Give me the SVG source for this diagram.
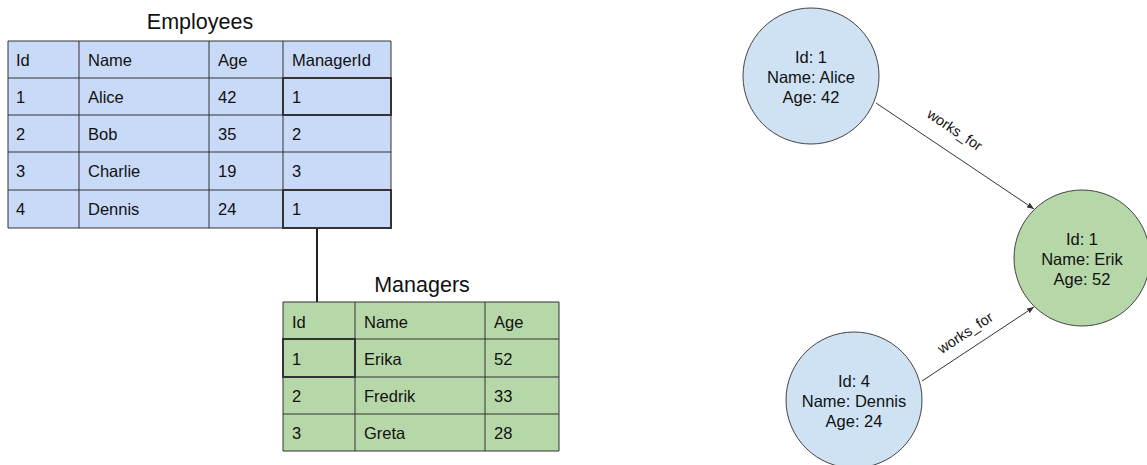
<svg xmlns="http://www.w3.org/2000/svg" width="1147" height="465" viewBox="0 0 1147 465">
<defs>
<marker id="arr" viewBox="0 0 10 10" refX="10" refY="5" markerWidth="7" markerHeight="7" markerUnits="userSpaceOnUse" orient="auto">
<path d="M0,1 L10,5 L0,9 z" fill="#333"/>
</marker>
</defs>
<style>
text{font-family:"Liberation Sans",Arial,sans-serif;fill:#111}
.cell{font-size:16.5px}
.title{font-size:21.5px;text-anchor:middle}
.emp{fill:#c9daf8}
.mgr{fill:#b6d7a8}
.grid{stroke:#333;stroke-width:1;fill:none}
.hl{stroke:#333;stroke-width:2;fill:none}
.node{stroke:#444;stroke-width:1}
.blue{fill:#cfe2f3}
.green{fill:#b6d7a8}
.nt{font-size:16.5px;text-anchor:middle}
.el{font-size:14.5px;text-anchor:middle}
.edge{stroke:#333;stroke-width:1;fill:none}
</style>
<rect width="1147" height="465" fill="#fff"/>

<g id="employees">
<text class="title" x="200" y="29">Employees</text>
<rect class="emp" x="8" y="41" width="383" height="187"/>
<path class="grid" d="M8,41H391V228H8Z M79,41V228 M209,41V228 M283,41V228 M8,78H391 M8,115H391 M8,152H391 M8,190H391"/>
<rect class="hl" x="283" y="78" width="108" height="37"/>
<rect class="hl" x="283" y="190" width="108" height="38"/>
<g class="cell">
<text x="16" y="66">Id</text><text x="88" y="66">Name</text><text x="218" y="66">Age</text><text x="292" y="66">ManagerId</text>
<text x="16" y="103">1</text><text x="88" y="103">Alice</text><text x="218" y="103">42</text><text x="292" y="103">1</text>
<text x="16" y="140">2</text><text x="88" y="140">Bob</text><text x="218" y="140">35</text><text x="292" y="140">2</text>
<text x="16" y="177">3</text><text x="88" y="177">Charlie</text><text x="218" y="177">19</text><text x="292" y="177">3</text>
<text x="16" y="215">4</text><text x="88" y="215">Dennis</text><text x="218" y="215">24</text><text x="292" y="215">1</text>
</g>
</g>

<g id="managers">
<text class="title" x="422" y="292">Managers</text>
<rect class="mgr" x="283" y="302" width="276" height="149"/>
<path class="grid" d="M283,302H559V451H283Z M355,302V451 M485,302V451 M283,339H559 M283,377H559 M283,414H559"/>
<rect class="hl" x="283" y="339" width="72" height="38"/>
<g class="cell">
<text x="292" y="328">Id</text><text x="364" y="328">Name</text><text x="494" y="328">Age</text>
<text x="292" y="365">1</text><text x="364" y="365">Erika</text><text x="494" y="365">52</text>
<text x="292" y="402">2</text><text x="364" y="402">Fredrik</text><text x="494" y="402">33</text>
<text x="292" y="439">3</text><text x="364" y="439">Greta</text><text x="494" y="439">28</text>
</g>
</g>

<g id="connectors">
<line x1="317" y1="229" x2="317" y2="302" stroke="#222" stroke-width="2"/>
<line class="edge" x1="876" y1="103" x2="1034" y2="209" marker-end="url(#arr)"/>
<line class="edge" x1="922" y1="381" x2="1034" y2="307" marker-end="url(#arr)"/>
<text class="el" transform="translate(952,134) rotate(33.9)">works_for</text>
<text class="el" transform="translate(968,337) rotate(-33.5)">works_for</text>
</g>

<g id="alice">
<circle class="node blue" cx="811" cy="76" r="68"/>
<text class="nt" x="811" y="63">Id: 1</text>
<text class="nt" x="811" y="83">Name: Alice</text>
<text class="nt" x="811" y="103">Age: 42</text>
</g>
<g id="erik">
<circle class="node green" cx="1082" cy="258" r="68"/>
<text class="nt" x="1082" y="245">Id: 1</text>
<text class="nt" x="1082" y="265">Name: Erik</text>
<text class="nt" x="1082" y="285">Age: 52</text>
</g>
<g id="dennis">
<circle class="node blue" cx="854" cy="400" r="68"/>
<text class="nt" x="854" y="387">Id: 4</text>
<text class="nt" x="854" y="407">Name: Dennis</text>
<text class="nt" x="854" y="427">Age: 24</text>
</g>
</svg>
